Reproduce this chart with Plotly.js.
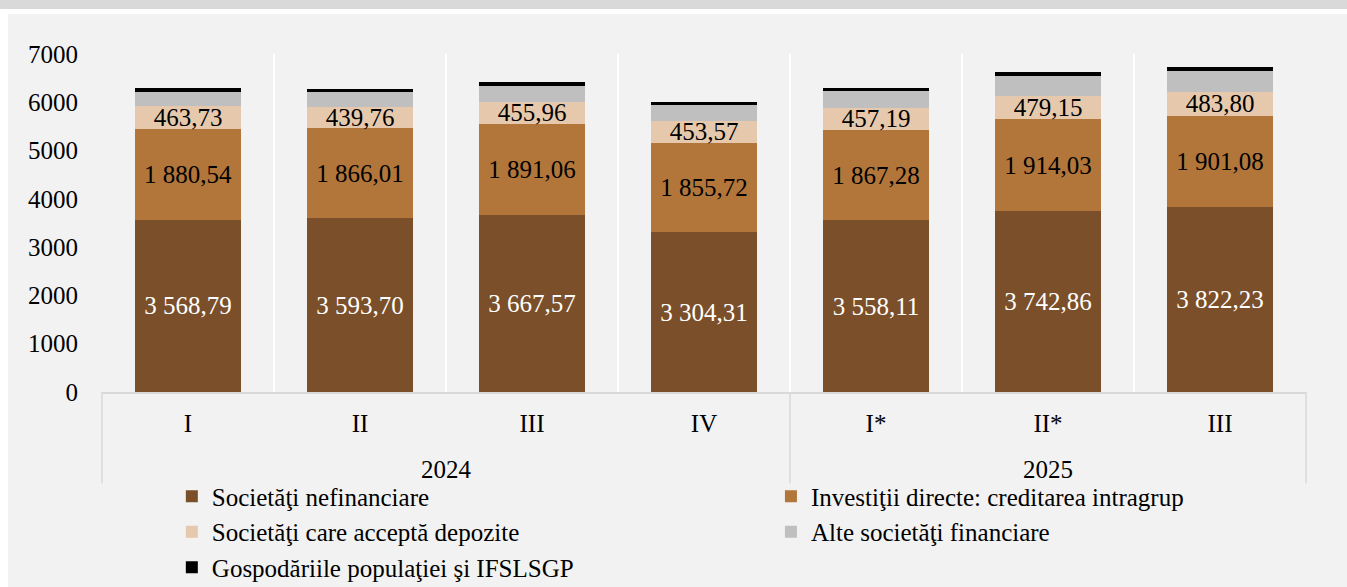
<!DOCTYPE html>
<html>
<head>
<meta charset="utf-8">
<script src="https://cdn.plot.ly/plotly-3.0.1.min.js"></script>
<style>
  html, body { margin: 0; padding: 0; background: #ffffff; }
  #chart { width: 1347px; height: 587px; }
</style>
</head>
<body>
<div id="chart"></div>
<script>
// Quarters and years on the two-level category axis
const years = ['2024', '2024', '2024', '2024', '2025', '2025', '2025'];
const quarters = ['I', 'II', 'III', 'IV', 'I*', 'II*', 'III'];

// Stock by creditor sector, millions
const nonFinancial = [3568.79, 3593.70, 3667.57, 3304.31, 3558.11, 3742.86, 3822.23];
const directInvestment = [1880.54, 1866.01, 1891.06, 1855.72, 1867.28, 1914.03, 1901.08];
const depositTaking = [463.73, 439.76, 455.96, 453.57, 457.19, 479.15, 483.80];
const otherFinancial = [304, 311, 331, 323, 344, 408, 441];
const households = [77, 75, 70, 70, 70, 77, 77];

const seriesNames = [
  'Societăţi nefinanciare',
  'Investiţii directe: creditarea intragrup',
  'Societăţi care acceptă depozite',
  'Alte societăţi financiare',
  'Gospodăriile populaţiei şi IFSLSGP'
];
const seriesColors = ['#7a4f2a', '#b2763a', '#e6c9ac', '#bfbfbf', '#000000'];
const seriesValues = [nonFinancial, directInvestment, depositTaking, otherFinancial, households];
const labelled = [true, true, true, false, false];
const labelColors = ['#ffffff', '#000000', '#000000', '#000000', '#000000'];

const FONT = 'Liberation Serif, Times New Roman, serif';
const FS = 25;

// unique category keys, displayed as quarter labels
const keys = quarters.map((q, i) => years[i] + '-' + q);

function fmt(v) {
  const parts = v.toFixed(2).split('.');
  return parts[0].replace(/\B(?=(\d{3})+(?!\d))/g, ' ') + ',' + parts[1];
}

// legend laid out in two columns: even series left, odd series right
const traces = seriesValues.map((vals, s) => ({
  type: 'bar',
  name: seriesNames[s],
  legend: s % 2 === 0 ? 'legend' : 'legend2',
  x: keys,
  y: vals,
  marker: { color: seriesColors[s], line: { width: 0 } },
  text: labelled[s] ? vals.map(fmt) : null,
  textposition: labelled[s] ? 'inside' : 'none',
  insidetextanchor: 'middle',
  textangle: 0,
  constraintext: 'none',
  textfont: { family: FONT, size: FS, color: labelColors[s] },
  hoverinfo: 'skip'
}));

// year groups for the second label row
const yearGroups = [];
years.forEach((y, i) => {
  const g = yearGroups.find(o => o.year === y);
  if (g) { g.last = i; } else { yearGroups.push({ year: y, first: i, last: i }); }
});

const n = keys.length;
const divider = { type: 'line', xref: 'paper', yref: 'paper', y0: 0, y1: -0.27,
                  line: { color: '#d9d9d9', width: 1.5 } };
const shapes = [
  // page panels
  { type: 'rect', xref: 'paper', yref: 'paper', layer: 'below',
    x0: -0.0781, x1: 1.04, y0: 1.1183, y1: -0.6, line: { width: 0 }, fillcolor: '#f2f2f2' },
  { type: 'rect', xref: 'paper', yref: 'paper', layer: 'below',
    x0: -0.09, x1: 1.04, y0: 1.17, y1: 1.1331, line: { width: 0 }, fillcolor: '#d9d9d9' }
];
// group dividers below the axis
shapes.push(Object.assign({}, divider, { x0: 0, x1: 0 }));
yearGroups.forEach(g => {
  const xb = (g.last + 1) / n;
  shapes.push(Object.assign({}, divider, { x0: xb, x1: xb }));
});

const annotations = yearGroups.map(g => ({
  xref: 'x', yref: 'paper',
  x: (g.first + g.last) / 2, y: -0.228,
  text: g.year, showarrow: false,
  xanchor: 'center', yanchor: 'middle',
  font: { family: FONT, size: FS, color: '#000000' }
}));

const legendBase = {
  orientation: 'v', yanchor: 'top', xanchor: 'left', y: -0.241,
  traceorder: 'normal', tracegroupgap: 0,
  font: { family: FONT, size: FS, color: '#000000' },
  bgcolor: 'rgba(0,0,0,0)', borderwidth: 0,
  itemclick: false, itemdoubleclick: false
};

const layout = {
  width: 1347, height: 587,
  margin: { l: 102, r: 41, t: 54, b: 195, autoexpand: false },
  paper_bgcolor: '#ffffff',
  plot_bgcolor: 'rgba(0,0,0,0)',
  barmode: 'stack',
  bargap: 0.378,
  font: { family: FONT, size: FS, color: '#000000' },
  xaxis: {
    type: 'category',
    tickvals: keys, ticktext: quarters,
    tickson: 'boundaries',
    ticks: '', showgrid: true, gridcolor: '#ffffff', gridwidth: 2,
    showline: true, linecolor: '#d9d9d9', linewidth: 1.5,
    ticklabelstandoff: 8,
    tickfont: { family: FONT, size: FS, color: '#000000' },
    fixedrange: true
  },
  yaxis: {
    range: [0, 7000], dtick: 1000, tickformat: 'd',
    showgrid: false, zeroline: false, showline: false, ticks: '',
    ticklabelstandoff: 23,
    tickfont: { family: FONT, size: FS, color: '#000000' },
    fixedrange: true
  },
  showlegend: true,
  legend: Object.assign({}, legendBase, { x: 0.058 }),
  legend2: Object.assign({}, legendBase, { x: 0.5556 }),
  shapes: shapes,
  annotations: annotations
};

Plotly.newPlot('chart', traces, layout, { displayModeBar: false, staticPlot: true });
</script>
</body>
</html>
